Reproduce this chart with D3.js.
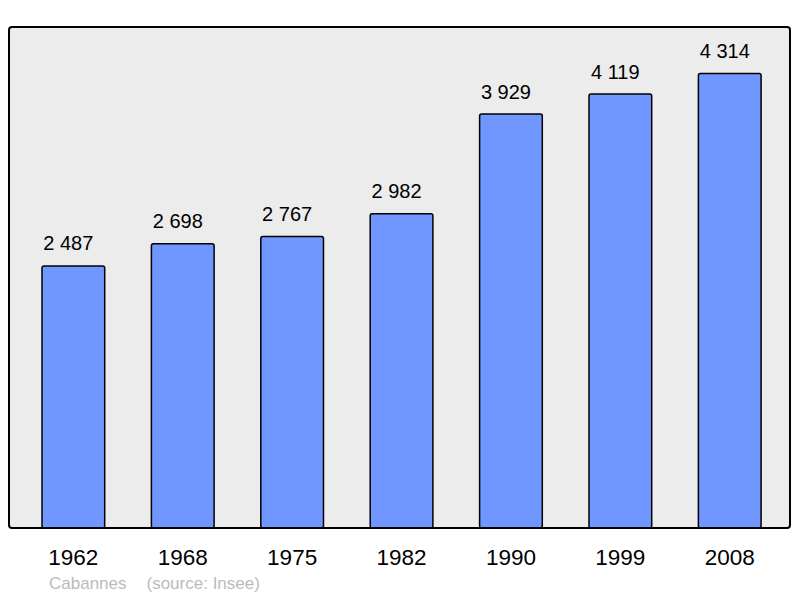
<!DOCTYPE html>
<html>
<head>
<meta charset="utf-8">
<script src="https://cdn.jsdelivr.net/npm/d3@7"></script>
<style>
  body { margin: 0; background: #fff; }
  text { font-family: "Liberation Sans", Arial, sans-serif; }
</style>
</head>
<body>
<div id="chart"></div>
<script>
var years = ["1962", "1968", "1975", "1982", "1990", "1999", "2008"]
var population = [2487, 2698, 2767, 2982, 3929, 4119, 4314]
var commune = "Cabannes"
var source = "(source: Insee)"

var width = 800, height = 598

let svg = d3.select("#chart").append("svg")
    .attr("width", width)
    .attr("height", height)

// plot frame
let frame = { left: 9, top: 27, right: 790, bottom: 528 }

svg.append("rect")
    .attr("x", frame.left)
    .attr("y", frame.top)
    .attr("width", frame.right - frame.left)
    .attr("height", frame.bottom - frame.top)
    .attr("rx", 3)
    .attr("fill", "#ececec")

let x = d3.scaleBand()
    .domain(years)
    .range([18.6, 784.5])
    .paddingInner(0.427)
    .paddingOuter(0.214)

let y = d3.scaleLinear()
    .domain([0, 4755])
    .range([frame.bottom, frame.top])

let bars = svg.selectAll("g.bar")
    .data(years.map((d, i) => ({ year: d, value: population[i] })))
    .enter()
    .append("g")
    .attr("class", "bar")

bars.append("rect")
    .attr("x", d => x(d.year))
    .attr("y", d => y(d.value))
    .attr("width", x.bandwidth())
    .attr("height", d => frame.bottom - y(d.value))
    .attr("rx", 2)
    .attr("fill", "#7096ff")
    .attr("stroke", "#000")
    .attr("stroke-width", 1.5)

// value labels (sit a little left of the bar centre, like the original)
bars.append("text")
    .attr("x", d => x(d.year) + x.bandwidth() / 2 - 5)
    .attr("y", d => y(d.value) - 15.5)
    .attr("text-anchor", "middle")
    .attr("font-size", 20)
    .attr("fill", "#000")
    .text(d => d3.format(",")(d.value).replace(",", " "))

// frame border on top of bars
svg.append("rect")
    .attr("x", frame.left)
    .attr("y", frame.top)
    .attr("width", frame.right - frame.left)
    .attr("height", frame.bottom - frame.top)
    .attr("rx", 3)
    .attr("fill", "none")
    .attr("stroke", "#000")
    .attr("stroke-width", 2)

// year labels
svg.append("g").selectAll("text")
    .data(years)
    .enter()
    .append("text")
    .attr("x", d => x(d) + x.bandwidth() / 2)
    .attr("y", 565)
    .attr("text-anchor", "middle")
    .attr("font-size", 22.5)
    .text(d => d)

svg.append("text")
    .attr("x", 49)
    .attr("y", 589)
    .attr("font-size", 17)
    .attr("fill", "#bbbbbb")
    .text(commune)

svg.append("text")
    .attr("x", 146.5)
    .attr("y", 589)
    .attr("font-size", 17)
    .attr("fill", "#bbbbbb")
    .text(source)
</script>
</body>
</html>
